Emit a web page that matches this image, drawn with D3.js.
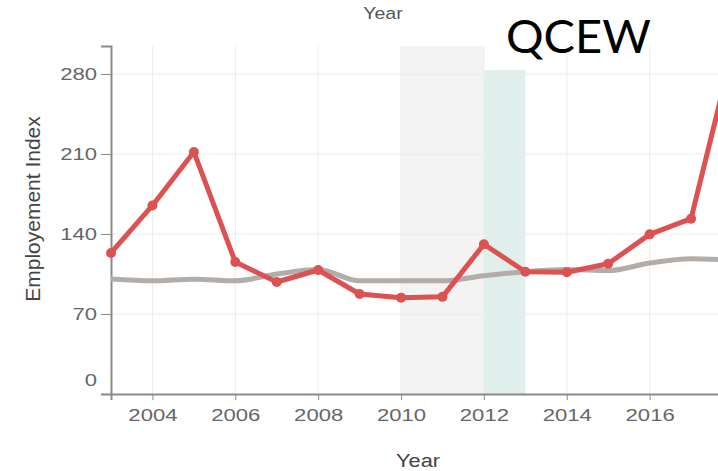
<!DOCTYPE html>
<html>
<head>
<meta charset="utf-8">
<script src="https://cdnjs.cloudflare.com/ajax/libs/d3/7.8.5/d3.min.js"></script>
<style>
  body { margin: 0; background: #fff; }
  svg { display: block; font-family: "Liberation Sans", Arial, sans-serif; }
  .grid line { stroke: #ececec; stroke-width: 1; }
  .axis path, .axis line { stroke: #8a8a8a; }
  .axis text { fill: #666; font-size: 17px; }
</style>
</head>
<body>
<svg id="chart"></svg>
<script>
const years = d3.range(2003, 2019);
const qcew = [123.4, 165, 211.8, 115.5, 98, 108.5, 87.5, 84.3, 85, 131, 107, 106.5, 114, 139.7, 153.4, 300];
const baseline = [100.6, 99, 100.5, 99, 105, 109, 99, 99, 99, 103.5, 107, 109, 108, 114.6, 118.4, 117];
const yTicks = [0, 70, 140, 210, 280];
const xTicks = [2004, 2006, 2008, 2010, 2012, 2014, 2016];
const bands = [
  {from: 2010, to: 2012, top: 304.5, color: "#f3f3f3"},
  {from: 2012, to: 2013, top: 283.5, color: "#e0eeec"}
];

const width = 718;
const height = 471;
const margin = {top: 46, right: -14.5, bottom: 77, left: 111};
const stretch = 1.3; // labels in the picture are wider than they are tall

const svg = d3.select("#chart")
              .attr("width", width)
              .attr("height", height);

const x = d3.scaleLinear()
            .domain([2003, 2018])
            .range([margin.left, width - margin.right]);

const y = d3.scaleLinear()
            .domain([0, 304.5])
            .range([height - margin.bottom, margin.top]);

// shaded periods
svg.append("g")
   .selectAll("rect")
   .data(bands)
   .enter()
   .append("rect")
   .attr("x", d => x(d.from))
   .attr("width", d => x(d.to) - x(d.from))
   .attr("y", d => y(d.top))
   .attr("height", d => y(0) - y(d.top))
   .style("fill", d => d.color);

// grid
const grid = svg.append("g").attr("class", "grid");
grid.selectAll(".gy")
    .data(yTicks.filter(d => d > 0))
    .enter()
    .append("line")
    .attr("x1", margin.left)
    .attr("x2", width)
    .attr("y1", d => y(d))
    .attr("y2", d => y(d));
grid.selectAll(".gx")
    .data(xTicks)
    .enter()
    .append("line")
    .attr("x1", d => x(d))
    .attr("x2", d => x(d))
    .attr("y1", margin.top)
    .attr("y2", y(0));

// axes
const yAxis = svg.append("g")
                 .attr("class", "axis")
                 .attr("transform", "translate(" + margin.left + ",0)")
                 .call(d3.axisLeft(y).tickValues(yTicks).tickSizeOuter(0).tickSize(10));
yAxis.select(".domain").style("stroke-width", 2);
yAxis.selectAll(".tick text")
     .attr("x", -14 / stretch)
     .attr("transform", "scale(" + stretch + ",1)");
yAxis.selectAll(".tick line")
     .filter(d => d === 0)
     .style("display", "none");
yAxis.selectAll(".tick text")
     .filter(d => d === 0)
     .attr("dy", "-0.5em");

const xAxis = svg.append("g")
                 .attr("class", "axis")
                 .attr("transform", "translate(0," + y(0) + ")")
                 .call(d3.axisBottom(x).tickValues(xTicks).tickFormat(d3.format("d")).tickSizeOuter(0).tickSize(6).tickPadding(9));
xAxis.select(".domain").style("stroke-width", 2);
xAxis.selectAll(".tick text")
     .attr("transform", "scale(" + stretch + ",1)");

// lines
const lineCurve = d3.line()
                    .x((d, i) => x(years[i]))
                    .y(d => y(d))
                    .curve(d3.curveMonotoneX);
const lineStraight = d3.line()
                       .x((d, i) => x(years[i]))
                       .y(d => y(d));

svg.append("path")
   .datum(baseline)
   .attr("d", lineCurve)
   .style("fill", "none")
   .style("stroke", "#b3adaa")
   .style("stroke-width", 5);

svg.append("path")
   .datum(qcew)
   .attr("d", lineStraight)
   .style("fill", "none")
   .style("stroke", "#dc5252")
   .style("stroke-width", 5)
   .style("stroke-linejoin", "round");

svg.append("g")
   .selectAll("circle")
   .data(qcew)
   .enter()
   .append("circle")
   .attr("cx", (d, i) => x(years[i]))
   .attr("cy", d => y(d))
   .attr("r", 5)
   .style("fill", "#dc5252");

// titles
svg.append("text")
   .attr("transform", "translate(40,209) rotate(-90)")
   .attr("text-anchor", "middle")
   .style("font-size", "21px")
   .style("fill", "#444")
   .text("Employement Index");

svg.append("text")
   .attr("transform", "translate(418,467) scale(1.15,1)")
   .attr("text-anchor", "middle")
   .style("font-size", "19px")
   .style("fill", "#444")
   .text("Year");

svg.append("text")
   .attr("transform", "translate(383,19) scale(1.15,1)")
   .attr("text-anchor", "middle")
   .style("font-size", "17px")
   .style("fill", "#555")
   .text("Year");

svg.append("text")
   .attr("x", 506)
   .attr("y", 53)
   .style("font-family", "Lato, sans-serif")
   .style("font-size", "47px")
   .style("fill", "#000")
   .text("QCEW");
</script>
</body>
</html>
